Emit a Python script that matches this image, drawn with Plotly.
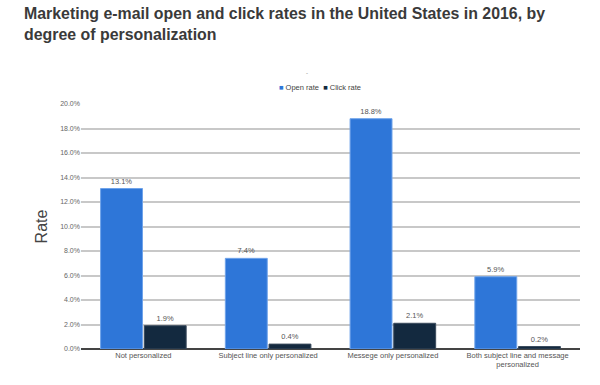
import plotly.graph_objects as go

categories = ["Not personalized", "Subject line only personalized", "Messege only personalized",
              "Both subject line and message<br>personalized"]
open_rate = [13.1, 7.4, 18.8, 5.9]
click_rate = [1.9, 0.4, 2.1, 0.2]
y_ticks = [0, 2, 4, 6, 8, 10, 12, 14, 16, 18, 20]
y_tick_labels = [f"{v:.1f}%" for v in y_ticks]
series_names = ["Open rate", "Click rate"]
series_colors = ["#2E76D8", "#13293F"]

W, H = 600, 385
L, R, T, B = 81, 20, 104, 36
PW, PH = W - L - R, H - T - B

fig = go.Figure()
for name, vals, col, edge in [(series_names[0], open_rate, series_colors[0], "#6FA3EA"),
                              (series_names[1], click_rate, series_colors[1], "#3A4A5C")]:
    fig.add_trace(go.Bar(
        name=name, x=categories, y=vals,
        marker=dict(color=col, line=dict(color=edge, width=1)),
        text=[f"{v:.1f}%" for v in vals], textposition="outside",
        textfont=dict(size=7.5, color="#555555"), cliponaxis=False,
        showlegend=False,
    ))

fig.update_layout(
    width=W, height=H,
    margin=dict(l=L, r=R, t=T, b=B, autoexpand=False),
    paper_bgcolor="white", plot_bgcolor="white",
    font=dict(family="Liberation Sans, Arial, sans-serif", color="#555555"),
    barmode="group", bargap=0.3, bargroupgap=0.04,
    showlegend=False,
    xaxis=dict(showgrid=False, showline=False, ticks="", automargin=False,
               tickfont=dict(size=7.5, color="#555555")),
    yaxis=dict(range=[0, 20], tickvals=y_ticks, ticktext=y_tick_labels, automargin=False,
               showgrid=True, gridcolor="#C8C8C8", gridwidth=1.5,
               zeroline=True, zerolinecolor="#444444", zerolinewidth=1.5,
               tickfont=dict(size=7, color="#666666"), ticks="",
               title=dict(text="Rate", font=dict(size=16, color="#444444"), standoff=8)),
)

# Title
fig.add_annotation(
    text="<b>Marketing e-mail open and click rates in the United States in 2016, by<br>degree of personalization</b>",
    x=(22 - L) / PW, y=1 + (T - 3) / PH, xref="paper", yref="paper",
    xanchor="left", yanchor="top", align="left", showarrow=False,
    font=dict(size=15.9, color="#3A3A3A", family="Liberation Sans, Arial, sans-serif"),
)
# Legend (as text)
legend_text = "  ".join(
    f"<span style='color:{c}'>■</span> {n}" for n, c in zip(series_names, series_colors))
fig.add_annotation(text=legend_text, x=(320 - L) / PW, y=1 + 17 / PH,
                   xref="paper", yref="paper", showarrow=False, xanchor="center", yanchor="middle",
                   font=dict(size=7.5, color="#444444"))
fig.add_annotation(text="-", x=(307 - L) / PW, y=1 + 31 / PH,
                   xref="paper", yref="paper", showarrow=False, yanchor="middle",
                   font=dict(size=6, color="#777777"))

fig.write_html("out.html", config={"displayModeBar": False},
               post_script="document.body.style.margin='0';")
